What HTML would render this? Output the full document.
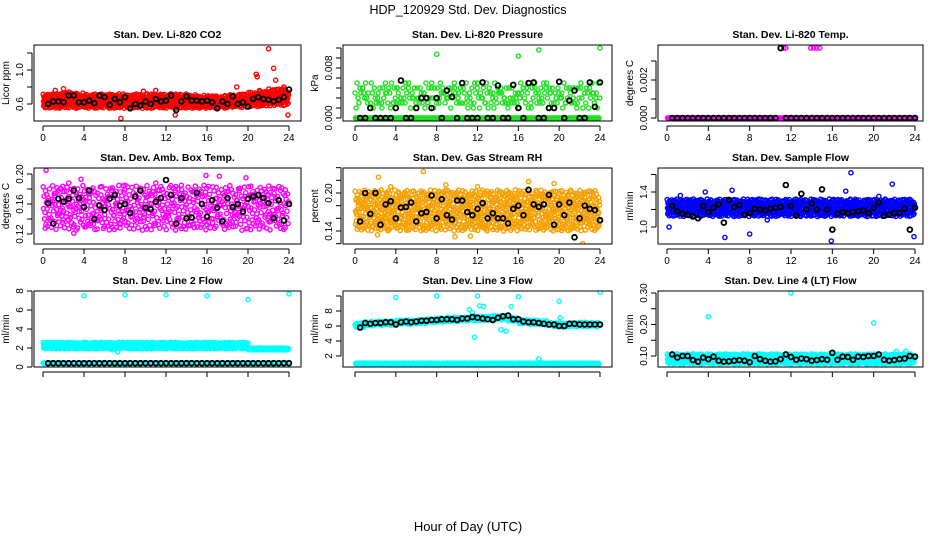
<!DOCTYPE html>
<html><head><meta charset="utf-8"><style>
html,body{margin:0;padding:0;background:#fff;}
svg{display:block;font-family:"Liberation Sans",sans-serif;}
</style></head><body>
<svg id="c" width="936" height="540" viewBox="0 0 936 540">
<text x="468" y="14" text-anchor="middle" font-size="12.5">HDP_120929  Std. Dev. Diagnostics</text>
<text x="468" y="531" text-anchor="middle" font-size="13">Hour of Day (UTC)</text>
</svg>
<script>
// ---- data ----
const hoursBlack = [0.5,1,1.5,2,2.5,3,3.5,4,4.5,5,5.5,6,6.5,7,7.5,8,8.5,9,9.5,10,10.5,11,11.5,12,12.5,13,13.5,14,14.5,15,15.5,16,16.5,17,17.5,18,18.5,19,19.5,20,20.5,21,21.5,22,22.5,23,23.5,24];
const co2Lo = [0.55,0.55,0.55,0.55,0.55,0.55,0.55,0.55,0.55,0.55,0.55,0.55,0.55,0.55,0.55,0.55,0.55,0.55,0.56,0.56,0.57,0.57,0.58,0.58,0.58];
const co2Hi = [0.72,0.73,0.74,0.73,0.72,0.72,0.72,0.72,0.71,0.72,0.72,0.72,0.72,0.72,0.71,0.70,0.70,0.70,0.71,0.72,0.74,0.76,0.78,0.78,0.76];
const co2OutX = [22,22.5,20.8,20.9,22.7,23.9,7.6,12.9,11,18.9,2,1.2,9.8,23.5];
const co2OutY = [1.25,1.02,0.95,0.92,0.88,0.47,0.43,0.47,0.76,0.80,0.78,0.76,0.75,0.80];
const co2Black = [0.60,0.63,0.63,0.62,0.70,0.70,0.62,0.62,0.64,0.61,0.70,0.68,0.59,0.66,0.62,0.68,0.55,0.60,0.58,0.63,0.60,0.66,0.63,0.64,0.70,0.53,0.63,0.69,0.64,0.64,0.63,0.64,0.62,0.55,0.63,0.60,0.69,0.60,0.62,0.57,0.66,0.68,0.66,0.65,0.63,0.65,0.68,0.77];

const presZeroLo = Array(25).fill(0), presZeroHi = Array(25).fill(0);
const presLo = Array(25).fill(0.0016), presHi = Array(25).fill(0.0056);
const presOutX = [8,16,18,24];
const presOutY = [0.0102,0.0099,0.0109,0.0112];
const presBlack = [0,0,0.0016,0,0,0,0,0.0016,0.006,0,0,0.0016,0.0032,0.0032,0.0016,0.0032,0,0.0044,0.0034,0,0.0056,0,0,0,0.0057,0,0,0.0052,0,0,0.0053,0.0016,0,0.0056,0.0057,0,0,0.0016,0.0016,0.0058,0,0.0028,0.0044,0,0,0.0057,0.0018,0.0057];

const tempLo = Array(25).fill(0), tempHi = Array(25).fill(0);
const tempOutX = [11.3,11.5,13.9,14.2,14.5,14.8];
const tempOutY = [0.00368,0.00368,0.00368,0.00368,0.00368,0.00368];
const tempBlack = [0,0,0,0,0,0,0,0,0,0,0,0,0,0,0,0,0,0,0,0,0,0.00368,0,0,0,0,0,0,0,0,0,0,0,0,0,0,0,0,0,0,0,0,0,0,0,0,0,0];

const ambLo = Array(25).fill(0.125), ambHi = Array(25).fill(0.185);
const ambOutX = [0.3,3,9.2,15.9,17.2,19.8,2.5,3.7,11,8,13.5,6];
const ambOutY = [0.205,0.121,0.103,0.198,0.197,0.195,0.188,0.193,0.188,0.185,0.185,0.130];
const ambBlack = [0.161,0.134,0.167,0.163,0.167,0.178,0.168,0.156,0.178,0.14,0.158,0.152,0.167,0.172,0.158,0.16,0.148,0.17,0.178,0.155,0.153,0.163,0.168,0.192,0.172,0.134,0.168,0.141,0.142,0.175,0.16,0.143,0.165,0.155,0.137,0.168,0.156,0.16,0.15,0.167,0.17,0.172,0.168,0.161,0.141,0.165,0.138,0.16];

const rhLo = Array(25).fill(0.14), rhHi = Array(25).fill(0.205);
const rhOutX = [2.3,6.7,8.9,17,22.3,9.8,2.2,11.3,19.5,3.5,12];
const rhOutY = [0.225,0.234,0.213,0.218,0.120,0.131,0.134,0.132,0.215,0.21,0.21];
const rhBlack = [0.155,0.2,0.167,0.2,0.15,0.182,0.187,0.16,0.177,0.178,0.185,0.155,0.168,0.17,0.196,0.16,0.19,0.165,0.158,0.188,0.188,0.17,0.165,0.175,0.184,0.16,0.168,0.16,0.16,0.152,0.175,0.18,0.165,0.205,0.182,0.178,0.182,0.197,0.15,0.182,0.165,0.185,0.13,0.16,0.18,0.175,0.173,0.157];

const flowLo = Array(25).fill(1.12), flowHi = Array(25).fill(1.32);
const flowOutX = [17.8,21.8,15.9,5.6,8,0.2,23.9,20.5,6.3,3.7,17.3,1.3,9.7];
const flowOutY = [1.62,1.49,0.84,0.88,0.92,1.0,0.89,1.35,1.42,1.40,1.41,1.36,1.08];
const flowBlack = [1.24,1.18,1.15,1.14,1.12,1.10,1.24,1.17,1.22,1.26,1.05,1.31,1.23,1.25,1.14,1.16,1.21,1.20,1.19,1.21,1.22,1.23,1.48,1.24,1.13,1.38,1.20,1.27,1.20,1.43,1.20,0.97,1.15,1.17,1.16,1.17,1.18,1.19,1.16,1.22,1.28,1.13,1.14,1.16,1.16,1.21,0.97,1.22];

const l2Lo = [1.9,1.9,1.9,1.9,1.9,1.9,1.9,1.9,1.9,1.9,1.9,1.9,1.9,1.9,1.9,1.9,1.9,1.9,1.9,1.9,1.8,1.8,1.8,1.8,1.8];
const l2Hi = [2.6,2.6,2.6,2.6,2.6,2.6,2.6,2.6,2.6,2.6,2.6,2.6,2.6,2.6,2.6,2.6,2.6,2.6,2.6,2.6,2.0,2.0,2.0,2.0,2.0];
const l2BaseLo = Array(25).fill(0.35), l2BaseHi = Array(25).fill(0.45);
const l2OutX = [4,8,12,16,20,24,7.3,6.8];
const l2OutY = [7.5,7.6,7.6,7.5,7.1,7.7,1.6,1.8];
const l2Black = Array(48).fill(0.4);

const l3BaseLo = Array(25).fill(0.95), l3BaseHi = Array(25).fill(1.05);
const l3Lo = [5.8,6.0,6.1,6.1,6.2,6.2,6.3,6.4,6.5,6.6,6.6,6.7,6.7,6.8,6.8,6.6,6.3,6.2,6.1,5.9,5.8,5.9,5.9,5.9,5.9];
const l3Hi = [6.4,6.6,6.7,6.7,6.8,6.8,6.9,7.0,7.1,7.2,7.2,7.3,7.3,7.4,7.4,7.2,6.9,6.8,6.7,6.5,6.4,6.5,6.5,6.5,6.5];
const l3OutX = [4,8,12,16,20,24,11.7,14.3,14.8,18,12.2,11.2,20.1,15.3,11.5,12.6];
const l3OutY = [9.8,10,10,9.9,9.3,10.5,4.5,5.5,5.3,1.6,8.7,8.2,7.1,8.6,7.8,8.6];
const l3Black = [5.8,6.4,6.3,6.4,6.4,6.5,6.5,6.2,6.5,6.6,6.5,6.6,6.7,6.7,6.8,6.8,6.9,6.9,6.9,6.8,7.0,7.0,7.2,7.1,7.0,6.9,6.8,7.1,7.3,7.4,6.9,6.9,6.6,6.5,6.5,6.4,6.3,6.2,6.2,6.0,6.0,6.3,6.3,6.2,6.2,6.2,6.2,6.2];

const l4Lo = Array(25).fill(0.075), l4Hi = Array(25).fill(0.107);
const l4OutX = [4,12,20,22.2,23.1];
const l4OutY = [0.225,0.30,0.205,0.115,0.115];
const l4Black = [0.105,0.095,0.1,0.1,0.087,0.082,0.095,0.09,0.098,0.085,0.082,0.083,0.085,0.087,0.085,0.08,0.1,0.09,0.085,0.082,0.083,0.09,0.105,0.097,0.088,0.092,0.09,0.085,0.087,0.09,0.088,0.11,0.088,0.098,0.097,0.088,0.098,0.097,0.1,0.1,0.105,0.088,0.085,0.087,0.09,0.092,0.1,0.098];

const xTicks = [0,4,8,12,16,20,24];

// ---- layout ----
const cols = [{bl:34,br:301,h0:43,h24:289},{bl:343,br:612,h0:355,h24:600},{bl:658,br:923,h0:667,h24:915}];
const rows = [{bt:45,bb:121},{bt:168,bb:244},{bt:291,bb:367}];
const svg = document.getElementById('c');
const NS = 'http://www.w3.org/2000/svg';
function mk(tag, attrs, parent){ const e=document.createElementNS(NS,tag); for(const k in attrs) e.setAttribute(k,attrs[k]); (parent||svg).appendChild(e); return e; }
function halton(i,b){ let f=1,r=0; while(i>0){ f/=b; r+=f*(i%b); i=Math.floor(i/b);} return r; }

const panels = [
 {name:'co2',title:'Stan. Dev. Li-820 CO2',ylab:'Licor ppm',col:0,row:0,v1:0.6,p1:104,v2:1.0,p2:70,ticks:[0.6,0.8,1.0,1.2],labels:{'0.6':'0.6','1':'1.0'},color:'#ff0000',
  bands:[{lo:co2Lo,hi:co2Hi,n:900}],outX:co2OutX,outY:co2OutY,black:co2Black,xlab:true},
 {name:'pressure',title:'Stan. Dev. Li-820 Pressure',ylab:'kPa',col:1,row:0,v1:0,p1:118,v2:0.008,p2:68,ticks:[0,0.0016,0.0032,0.0048,0.0064,0.008,0.0096,0.0112],labels:{'0':'0.000','0.008':'0.008'},color:'#22e022',
  bands:[{lo:presZeroLo,hi:presZeroHi,n:300},{lo:presLo,hi:presHi,n:260,q:0.0008}],outX:presOutX,outY:presOutY,black:presBlack,xlab:true},
 {name:'temp',title:'Stan. Dev. Li-820 Temp.',ylab:'degrees C',col:2,row:0,v1:0,p1:118,v2:0.002,p2:80,ticks:[0,0.001,0.002,0.003],labels:{'0':'0.000','0.002':'0.002'},color:'#ff00ff',
  bands:[{lo:tempLo,hi:tempHi,n:300}],outX:tempOutX,outY:tempOutY,black:tempBlack,xlab:true},
 {name:'amb-box-temp',title:'Stan. Dev. Amb. Box Temp.',ylab:'degrees C',col:0,row:1,v1:0.12,p1:234,v2:0.20,p2:174,ticks:[0.12,0.14,0.16,0.18,0.20],labels:{'0.12':'0.12','0.16':'0.16','0.2':'0.20'},color:'#ff00ff',
  bands:[{lo:ambLo,hi:ambHi,n:600}],outX:ambOutX,outY:ambOutY,black:ambBlack,xlab:true},
 {name:'gas-rh',title:'Stan. Dev. Gas Stream RH',ylab:'percent',col:1,row:1,v1:0.14,p1:231,v2:0.20,p2:193,ticks:[0.12,0.14,0.16,0.18,0.20,0.22,0.24],labels:{'0.14':'0.14','0.2':'0.20'},color:'#f5a000',
  bands:[{lo:rhLo,hi:rhHi,n:900}],outX:rhOutX,outY:rhOutY,black:rhBlack,xlab:true},
 {name:'sample-flow',title:'Stan. Dev. Sample Flow',ylab:'ml/min',col:2,row:1,v1:1.0,p1:227,v2:1.4,p2:192,ticks:[1.0,1.2,1.4,1.6],labels:{'1':'1.0','1.4':'1.4'},color:'#0000ff',
  bands:[{lo:flowLo,hi:flowHi,n:900}],outX:flowOutX,outY:flowOutY,black:flowBlack,xlab:true},
 {name:'line2-flow',title:'Stan. Dev. Line 2 Flow',ylab:'ml/min',col:0,row:2,v1:0,p1:367,v2:8,p2:291,ticks:[0,2,4,6,8],labels:{'0':'0','2':'2','4':'4','6':'6','8':'8'},color:'#00ffff',
  bands:[{lo:l2Lo,hi:l2Hi,n:800},{lo:l2BaseLo,hi:l2BaseHi,n:200}],outX:l2OutX,outY:l2OutY,black:l2Black,xlab:false},
 {name:'line3-flow',title:'Stan. Dev. Line 3 Flow',ylab:'ml/min',col:1,row:2,v1:2,p1:356,v2:8,p2:311,ticks:[2,4,6,8,10],labels:{'2':'2','4':'4','6':'6','8':'8'},color:'#00ffff',
  bands:[{lo:l3BaseLo,hi:l3BaseHi,n:400},{lo:l3Lo,hi:l3Hi,n:400}],outX:l3OutX,outY:l3OutY,black:l3Black,xlab:false},
 {name:'line4-flow',title:'Stan. Dev. Line 4 (LT) Flow',ylab:'ml/min',col:2,row:2,v1:0.10,p1:356,v2:0.30,p2:293,ticks:[0.10,0.15,0.20,0.25,0.30],labels:{'0.1':'0.10','0.2':'0.20','0.3':'0.30'},color:'#00ffff',
  bands:[{lo:l4Lo,hi:l4Hi,n:900}],outX:l4OutX,outY:l4OutY,black:l4Black,xlab:false}
];

panels.forEach(p=>{
  const C=cols[p.col], R=rows[p.row];
  const xs = h => C.h0 + (C.h24-C.h0)*h/24;
  const ys = v => p.p1 + (v-p.v1)*(p.p2-p.p1)/(p.v2-p.v1);
  const g = mk('g',{});
  
  
  const defs = mk('clipPath',{id:'clip-'+p.name},g);
  mk('rect',{x:C.bl,y:R.bt,width:C.br-C.bl,height:R.bb-R.bt},defs);
  const t = mk('text',{x:(C.bl+C.br)/2,y:R.bt-7,'text-anchor':'middle','font-size':'10.5','font-weight':'bold'},g);
  t.textContent = p.title;
  
  
  const pts = mk('g',{'clip-path':'url(#clip-'+p.name+')',fill:'none','stroke-width':'1.4'},g);
  
  
  p.bands.forEach((b,bi)=>{
    for(let i=1;i<=b.n;i++){
      const h = halton(i+bi*977,2)*24;
      const k = Math.min(24,Math.floor(h));
      let v = b.lo[k] + halton(i+bi*977,3)*(b.hi[k]-b.lo[k]);
      if(b.q) v = Math.round(v/b.q)*b.q;
      const c = mk('circle',{cx:xs(h).toFixed(1),cy:ys(v).toFixed(1),r:2.1,stroke:p.color},pts);
      
      
    }
  });
  p.outX.forEach((h,i)=>{
    const c = mk('circle',{cx:xs(h),cy:ys(p.outY[i]),r:2.1,stroke:p.color},pts);
    
    
  });
  p.black.forEach((v,i)=>{
    const c = mk('circle',{cx:xs(hoursBlack[i]),cy:ys(v),r:2.4,stroke:'#000','stroke-width':1.8},pts);
    
    
  });
  const box = mk('rect',{x:C.bl,y:R.bt,width:C.br-C.bl,height:R.bb-R.bt,fill:'none',stroke:'#000','stroke-width':1},g);
  
  
  const xa = mk('g',{stroke:'#000','stroke-width':1},g);
  
  
  const ay = R.bb+5;
  mk('line',{x1:xs(0),x2:xs(24),y1:ay,y2:ay},xa);
  xTicks.forEach(h=>{
    mk('line',{x1:xs(h),x2:xs(h),y1:ay,y2:ay+5},xa);
    if(p.xlab){ const tl=mk('text',{x:xs(h),y:ay+15,'text-anchor':'middle','font-size':'10',stroke:'none',fill:'#000'},xa); tl.textContent=h; }
  });
  const ya = mk('g',{stroke:'#000','stroke-width':1},g);
  
  
  const ax = C.bl-2;
  const inT = p.ticks.filter(v=>ys(v)>=R.bt-1 && ys(v)<=R.bb+1);
  mk('line',{x1:ax,x2:ax,y1:ys(inT[0]),y2:ys(inT[inT.length-1])},ya);
  inT.forEach(v=>{
    mk('line',{x1:ax-5,x2:ax,y1:ys(v),y2:ys(v)},ya);
    const key = String(+v.toFixed(6));
    if(p.labels[key]!==undefined){
      const tl=mk('text',{x:0,y:0,'text-anchor':'middle','font-size':'10',stroke:'none',fill:'#000',transform:`translate(${ax-9},${ys(v)}) rotate(-90)`},ya);
      tl.textContent=p.labels[key];
    }
  });
  const yt = mk('text',{x:0,y:0,'text-anchor':'middle','font-size':'10',transform:`translate(${C.bl-25},${(R.bt+R.bb)/2}) rotate(-90)`},g);
  yt.textContent = p.ylab;
  
  
});
</script>
</body></html>
